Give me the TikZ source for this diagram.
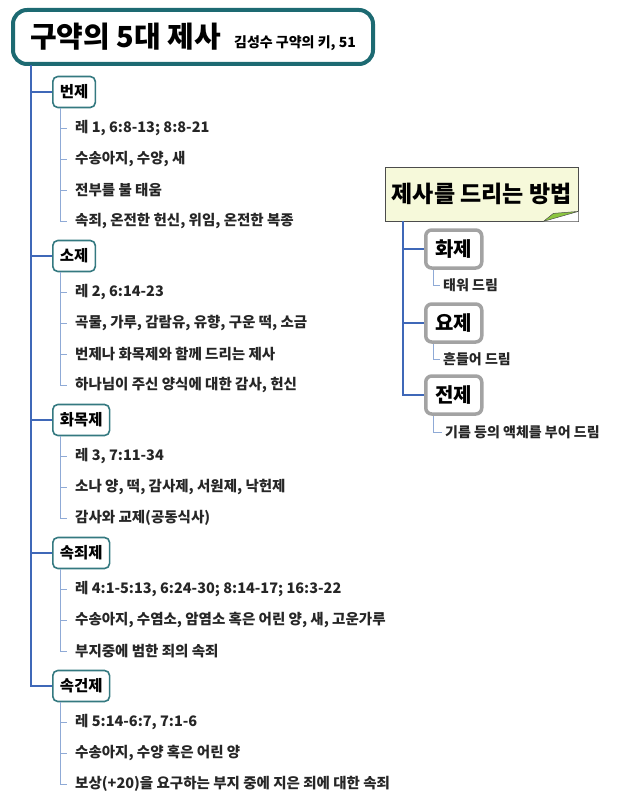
\documentclass[tikz,border=0pt]{standalone}
\usepackage{fontspec}
\setmainfont{Noto Sans CJK KR}
\usepackage{tikz}
\usetikzlibrary{positioning}

\definecolor{titleline}{HTML}{1D6A72}
\definecolor{trunkblue}{HTML}{3F68B8}
\definecolor{twigblue}{HTML}{8FAAD6}
\definecolor{boxgray}{HTML}{A3A3A3}
\definecolor{notefill}{HTML}{F6F9DA}
\definecolor{foldgreen}{HTML}{8CC63F}

\tikzset{
  titlebox/.style={draw=titleline, line width=4pt, rounded corners=14pt, fill=white,
    minimum width=360pt, minimum height=54pt, inner sep=0pt},
  catbox/.style={draw=titleline!90, line width=1.6pt, rounded corners=5pt, fill=white,
    anchor=west, minimum height=31pt, inner xsep=7pt, font=\fontsize{15.5}{15.5}\selectfont\bfseries},
  item/.style={anchor=west, inner sep=0pt, font=\fontsize{14.5}{14.5}\selectfont\bfseries, text=black!85},
  waybox/.style={draw=boxgray, line width=3.5pt, rounded corners=6pt, fill=white,
    anchor=west, minimum width=56pt, minimum height=38pt, inner sep=0pt,
    font=\fontsize{20}{20}\selectfont\bfseries},
  subitem/.style={anchor=west, inner sep=0pt, font=\fontsize{14}{14}\selectfont\bfseries, text=black!85},
  trunk/.style={draw=trunkblue, line width=1.4pt},
  twig/.style={draw=twigblue, line width=0.8pt},
}

\begin{document}
\begin{tikzpicture}[x=1pt,y=-1pt]
  \useasboundingbox (0,0) rectangle (633,797);

  % title
  \node[titlebox] (title) at (193,37) {%
    {\fontsize{29}{29}\selectfont\bfseries 구약의 5대 제사}\hspace{13pt}%
    {\fontsize{14}{14}\selectfont\bfseries 김성수 구약의 키, 51}};
  \coordinate (stem) at (31,65);

  % the five offerings
  \node[catbox] (bun) at (52,92) {번제};
  \foreach \t [count=\i] in {{레 1, 6:8-13; 8:8-21},{수송아지, 수양, 새},{전부를 불 태움},
    {속죄, 온전한 헌신, 위임, 온전한 복종}}
    \node[item] (bun-\i) at (75,97+31*\i) {\t};

  \node[catbox] (so) at (52,256) {소제};
  \foreach \t [count=\i] in {{레 2, 6:14-23},{곡물, 가루, 감람유, 유향, 구운 떡, 소금},
    {번제나 화목제와 함께 드리는 제사},{하나님이 주신 양식에 대한 감사, 헌신}}
    \node[item] (so-\i) at (75,261+31*\i) {\t};

  \node[catbox] (hwamok) at (52,420) {화목제};
  \foreach \t [count=\i] in {{레 3, 7:11-34},{소나 양, 떡, 감사제, 서원제, 낙헌제},
    {감사와 교제(공동식사)}}
    \node[item] (hwamok-\i) at (75,425+31*\i) {\t};

  \node[catbox] (sokjoe) at (52,553) {속죄제};
  \foreach \t [count=\i] in {{레 4:1-5:13, 6:24-30; 8:14-17; 16:3-22},
    {수송아지, 수염소, 암염소 혹은 어린 양, 새, 고운가루},{부지중에 범한 죄의 속죄}}
    \node[item] (sokjoe-\i) at (75,558+31*\i) {\t};

  \node[catbox] (sokgeon) at (52,686) {속건제};
  \foreach \t [count=\i] in {{레 5:14-6:7, 7:1-6},{수송아지, 수양 혹은 어린 양},
    {보상(+20)을 요구하는 부지 중에 지은 죄에 대한 속죄}}
    \node[item] (sokgeon-\i) at (75,691+31*\i) {\t};

  % trunk and twigs
  \draw[trunk] (stem) |- (sokgeon.west);
  \foreach \c in {bun,so,hwamok,sokjoe}
    \draw[trunk] (stem |- \c.west) -- (\c.west);

  \foreach \c/\n in {bun/4,so/4,hwamok/3,sokjoe/3,sokgeon/3}{
    \coordinate (\c-stem) at ([xshift=8pt]\c.south west);
    \draw[twig] (\c-stem) |- ([xshift=-8pt]\c-\n.west);
    \foreach \i in {1,...,\n}
      \draw[twig] (\c-stem |- \c-\i.west) -- ([xshift=-8pt]\c-\i.west);
  }

  % how they are offered
  \node[draw=black!70, fill=notefill, anchor=north west, inner sep=0pt,
    minimum width=193pt, minimum height=54pt,
    font=\fontsize{23}{23}\selectfont\bfseries] (way) at (385,167) {제사를 드리는 방법};
  \coordinate (fold-a) at ([xshift=-35pt]way.south east);
  \coordinate (fold-b) at ([yshift=10pt]way.south east);
  \fill[white] (fold-a) -- (way.south east) -- (fold-b) -- cycle;
  \filldraw[fill=foldgreen, draw=black!70, line width=0.5pt]
    (fold-a) -- (fold-b) -- ([xshift=-25pt,yshift=8pt]way.south east) -- cycle;
  \coordinate (waystem) at (403,221);

  \node[waybox] (hwa) at (424,249) {화제};
  \node[subitem] (hwa-1) at (443,285) {태워 드림};
  \node[waybox] (yo) at (424,323) {요제};
  \node[subitem] (yo-1) at (443,359) {흔들어 드림};
  \node[waybox] (jeon) at (424,395) {전제};
  \node[subitem] (jeon-1) at (445,432) {기름 등의 액체를 부어 드림};

  \draw[trunk] (waystem) |- (jeon.west);
  \foreach \c in {hwa,yo}
    \draw[trunk] (waystem |- \c.west) -- (\c.west);
  \foreach \c in {hwa,yo,jeon}{
    \coordinate (\c-stem) at ([xshift=9pt]\c.south west);
    \draw[twig] (\c-stem) |- ([xshift=-3pt]\c-1.west);
  }
\end{tikzpicture}
\end{document}
